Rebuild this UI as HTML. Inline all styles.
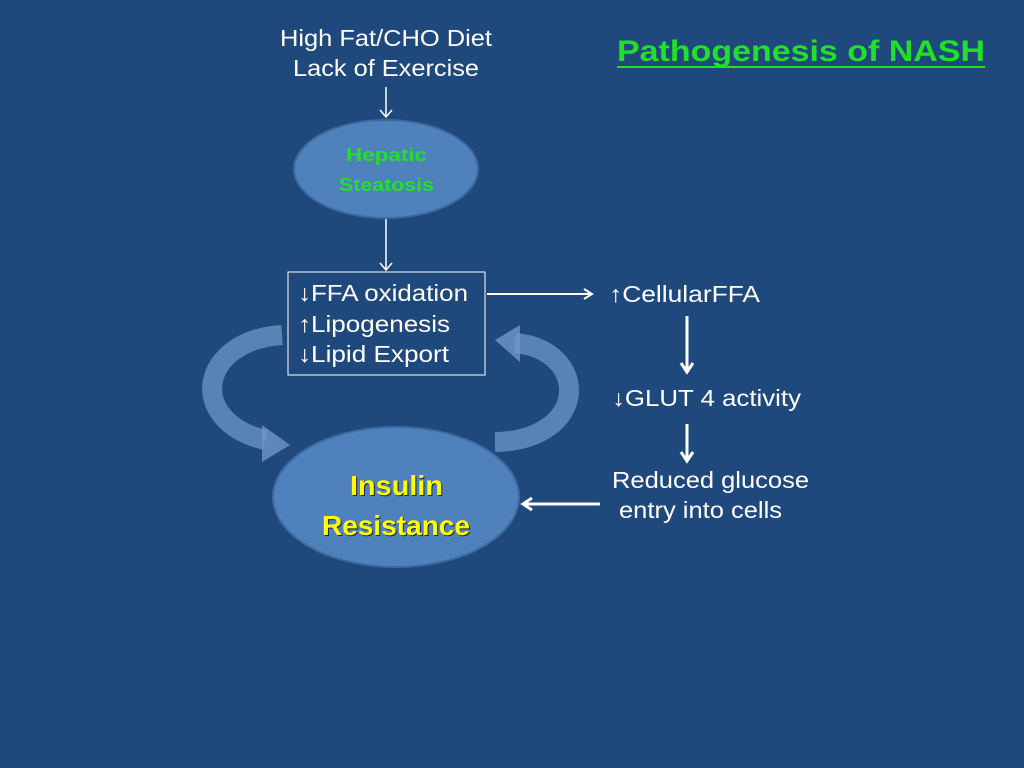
<!DOCTYPE html>
<html><head><style>
body{margin:0;width:1024px;height:768px;background:#1f497d;overflow:hidden}
svg{display:block}
text{font-family:"Liberation Sans",Arial,sans-serif}
</style></head><body>
<svg width="1024" height="768" viewBox="0 0 1024 768">
<rect width="1024" height="768" fill="#1f497d"/>
<text x="280" y="46" fill="#fff" font-size="23" textLength="212" lengthAdjust="spacingAndGlyphs">High Fat/CHO Diet</text>
<text x="293" y="76" fill="#fff" font-size="23" textLength="186" lengthAdjust="spacingAndGlyphs">Lack of Exercise</text>
<text x="617" y="61" fill="#22e02a" font-size="30" font-weight="bold" textLength="368" lengthAdjust="spacingAndGlyphs">Pathogenesis of NASH</text>
<line x1="617" y1="67" x2="985" y2="67" stroke="#22e02a" stroke-width="2"/>
<g stroke="#fff" stroke-width="1.5" fill="none">
<line x1="386" y1="87" x2="386" y2="117"/><path d="M380 110 L386 117 L392 110"/>
<line x1="386" y1="218" x2="386" y2="270"/><path d="M380 263 L386 270 L392 263"/>
</g>
<ellipse cx="386" cy="169" rx="92" ry="49" fill="#4f81bd" stroke="#3e6a9e" stroke-width="2"/>
<text x="346" y="161" fill="#22e02a" font-size="18" font-weight="bold" textLength="81" lengthAdjust="spacingAndGlyphs">Hepatic</text>
<text x="339" y="191" fill="#22e02a" font-size="18" font-weight="bold" textLength="95" lengthAdjust="spacingAndGlyphs">Steatosis</text>
<path d="M282 335 C200 340 185 420 265 440" stroke="#6f97c8" stroke-opacity="0.75" stroke-width="20" fill="none"/>
<polygon points="262,425 290,445 262,462" fill="#6f97c8" fill-opacity="0.8"/>
<path d="M495 442 C590 440 590 350 515 343" stroke="#6f97c8" stroke-opacity="0.75" stroke-width="20" fill="none"/>
<polygon points="520,325 495,340 520,362" fill="#6f97c8" fill-opacity="0.8"/>
<rect x="288" y="272" width="197" height="103" fill="#1f497d" stroke="#fff" stroke-width="1"/>
<text x="298" y="301" fill="#fff" font-size="23" textLength="170" lengthAdjust="spacingAndGlyphs">↓FFA oxidation</text>
<text x="298" y="332" fill="#fff" font-size="23" textLength="152" lengthAdjust="spacingAndGlyphs">↑Lipogenesis</text>
<text x="298" y="362" fill="#fff" font-size="23" textLength="151" lengthAdjust="spacingAndGlyphs">↓Lipid Export</text>
<ellipse cx="396" cy="497" rx="123" ry="70" fill="#4f81bd" stroke="#3e6a9e" stroke-width="2"/>
<text x="351" y="496" fill="#222" font-size="28" font-weight="bold" textLength="93" lengthAdjust="spacingAndGlyphs">Insulin</text>
<text x="323" y="536" fill="#222" font-size="28" font-weight="bold" textLength="148" lengthAdjust="spacingAndGlyphs">Resistance</text>
<text x="350" y="495" fill="#ffff00" font-size="28" font-weight="bold" textLength="93" lengthAdjust="spacingAndGlyphs">Insulin</text>
<text x="322" y="535" fill="#ffff00" font-size="28" font-weight="bold" textLength="148" lengthAdjust="spacingAndGlyphs">Resistance</text>
<g stroke="#fff" stroke-width="2" fill="none">
<line x1="487" y1="294" x2="592" y2="294"/><path d="M584 289 L592 294 L584 299"/>
</g>
<g stroke="#fff" stroke-width="3" fill="none">
<line x1="687" y1="316" x2="687" y2="372"/><path d="M681 363 L687 372 L693 363"/>
<line x1="687" y1="424" x2="687" y2="461"/><path d="M681 452 L687 461 L693 452"/>
<line x1="600" y1="504" x2="523" y2="504"/><path d="M532 498 L523 504 L532 510"/>
</g>
<text x="609" y="302" fill="#fff" font-size="23" textLength="151" lengthAdjust="spacingAndGlyphs">↑CellularFFA</text>
<text x="612" y="406" fill="#fff" font-size="23" textLength="189" lengthAdjust="spacingAndGlyphs">↓GLUT 4 activity</text>
<text x="612" y="488" fill="#fff" font-size="23" textLength="197" lengthAdjust="spacingAndGlyphs">Reduced glucose</text>
<text x="619" y="518" fill="#fff" font-size="23" textLength="163" lengthAdjust="spacingAndGlyphs">entry into cells</text>
</svg>
</body></html>
